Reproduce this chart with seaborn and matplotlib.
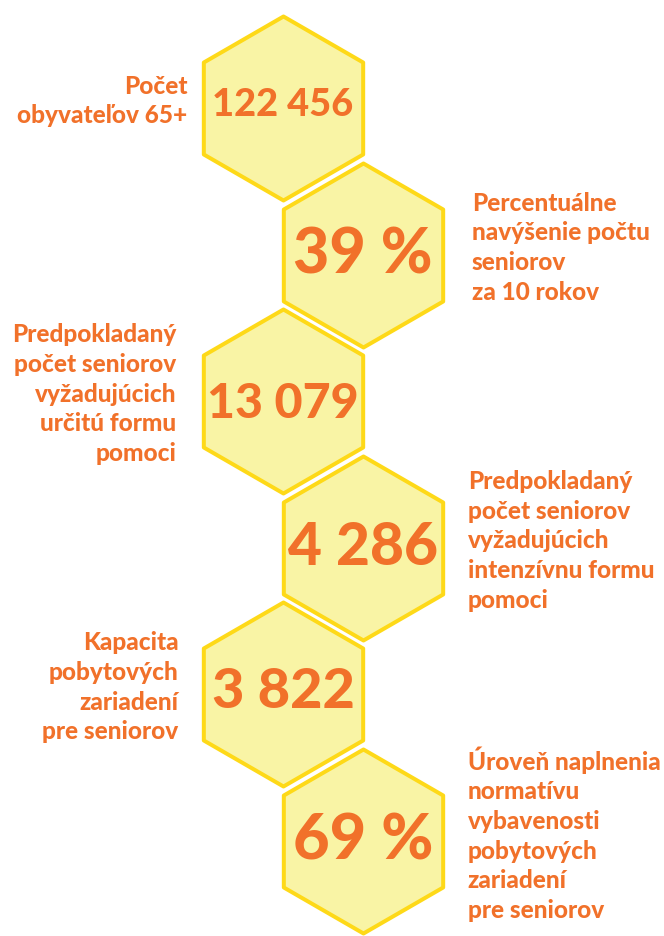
import matplotlib
matplotlib.use("Agg")
import matplotlib.pyplot as plt
import pandas as pd
import seaborn as sns

# values shown inside the hexagons and the captions beside them
values = ["122 456", "39 %", "13 079", "4 286", "3 822", "69 %"]
labels = [
    "Počet\nobyvateľov 65+",
    "Percentuálne\nnavýšenie počtu\nseniorov\nza 10 rokov",
    "Predpokladaný\npočet seniorov\nvyžadujúcich\nurčitú formu\npomoci",
    "Predpokladaný\npočet seniorov\nvyžadujúcich\nintenzívnu formu\npomoci",
    "Kapacita\npobytových\nzariadení\npre seniorov",
    "Úroveň naplnenia\nnormatívu\nvybavenosti\npobytových\nzariadení\npre seniorov",
]
sides = ["left", "right", "left", "right", "left", "right"]

# layout (pixels)
W, H, DPI = 664, 937, 100
X_COL = {"left": 283, "right": 363}
Y0, STEP = 109, 146.6
R = 92                      # hexagon circumradius
EDGE_PX = 4
num_width = [141, 139, 151, 150, 143, 140]
num_dy = [-4, 0, 2, -1, -3, 0]
label_gap = [14, 27, 25, 23, 23, 23]
LABEL_REF_WIDTH = 166       # width of "Predpokladaný"

FILL = "#F9F4A5"
EDGE = "#FED918"
ORANGE = "#F1712A"

sns.set_theme(style="white")
plt.rcParams["font.family"] = ["Lato", "DejaVu Sans"]

fig = plt.figure(figsize=(W / DPI, H / DPI), dpi=DPI)
ax = fig.add_axes([0, 0, 1, 1])

df = pd.DataFrame({
    "x": [X_COL[s] for s in sides],
    "y": [Y0 + i * STEP for i in range(len(values))],
    "value": values,
})

pt = 72 / DPI
sns.scatterplot(data=df, x="x", y="y", marker="h", s=(2 * R * pt) ** 2,
                color=FILL, edgecolor=EDGE, linewidth=EDGE_PX * pt,
                legend=False, ax=ax, zorder=1)
ax.set_xlim(0, W)
ax.set_ylim(H, 0)
ax.axis("off")

fig.canvas.draw()
rend = fig.canvas.get_renderer()

# numbers, scaled to fill the hexagon
for i, row in df.iterrows():
    t = ax.text(row.x, row.y + num_dy[i], row.value, ha="center", va="center",
                fontsize=30, fontweight="black", color=ORANGE, zorder=3)
    w = t.get_window_extent(rend).width
    t.set_fontsize(30 * num_width[i] / w)

# caption size from a reference word
probe = ax.text(0, 0, "Predpokladaný", fontsize=14, fontweight="black")
lab_fs = 14 * LABEL_REF_WIDTH / probe.get_window_extent(rend).width
probe.remove()

for i, row in df.iterrows():
    half_w = R * 3 ** 0.5 / 2 + EDGE_PX / 2
    if sides[i] == "left":
        x, ha = row.x - half_w - label_gap[i], "right"
    else:
        x, ha = row.x + half_w + label_gap[i], "left"
    ax.text(x, row.y - 8, labels[i], ha=ha, va="center", multialignment=ha,
            fontsize=lab_fs, fontweight="black", color=ORANGE, linespacing=1.35)

fig.savefig("out.png", dpi=DPI, facecolor="white")
